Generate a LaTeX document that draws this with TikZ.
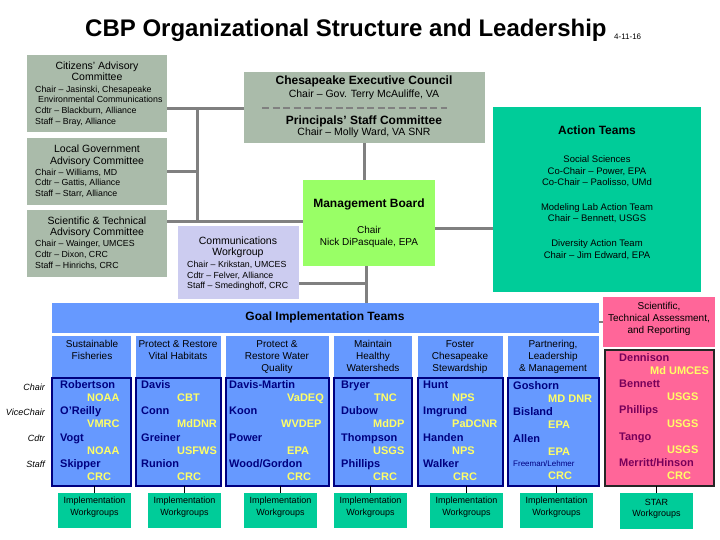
\documentclass[tikz,border=0pt]{standalone}
\usepackage{fontspec}
\setmainfont{Liberation Sans}
\definecolor{sage}{RGB}{170,187,170}
\definecolor{tealx}{RGB}{0,204,153}
\definecolor{limex}{RGB}{153,255,102}
\definecolor{lavx}{RGB}{204,204,240}
\definecolor{gblue}{RGB}{102,153,255}
\definecolor{pinkx}{RGB}{255,102,153}
\definecolor{navyx}{RGB}{0,0,128}
\definecolor{yelx}{RGB}{255,255,102}
\definecolor{plumx}{RGB}{120,0,90}
\definecolor{conngray}{RGB}{128,128,128}
\newcommand\myT{\fontsize{24}{26}\selectfont\bfseries}
\newcommand\myH{\fontsize{10.5}{12}\selectfont}
\newcommand\myS{\fontsize{8.8}{10}\selectfont}
\newcommand\myB{\fontsize{12}{14}\selectfont\bfseries}
\newcommand\myM{\fontsize{10}{12}\selectfont}
\newcommand\myE{\fontsize{10.5}{12}\selectfont}
\newcommand\myA{\fontsize{9.5}{11}\selectfont}
\newcommand\myN{\fontsize{11}{13}\selectfont\bfseries}
\newcommand\myW{\fontsize{9}{10}\selectfont}
\newcommand\mybox[6]{\node[boxst,#6,minimum width=#4pt,minimum height=#5pt] (#1) at (#2,#3) {};}
\newcommand\nm[4]{\node[nmst] (#1) at (#2,#3) {#4};}
\newcommand\org[4]{\node[orgst] (#1) at (#2,#3) {#4};}
\begin{document}
\begin{tikzpicture}[x=1pt,y=-1pt,
  boxst/.style={draw=none,inner sep=0,outer sep=0,anchor=north west},
  conn/.style={draw=conngray,line width=3pt},
  tick/.style={draw=black,line width=1pt},
  txt/.style={inner sep=0,anchor=mid},
  ltxt/.style={inner sep=0,anchor=mid west},
  nmst/.style={inner sep=0,anchor=mid west,text=navyx,font=\myN},
  orgst/.style={inner sep=0,anchor=mid west,text=yelx,font=\myN},
  lowbox/.style={fill=gblue,draw=navyx,line width=1.2pt},
  wgbox/.style={fill=tealx},
  lab/.style={inner sep=0,anchor=mid east,font=\fontsize{9}{10}\selectfont\itshape}]
\useasboundingbox (0,0) rectangle (720,540);

% title
\node[ltxt] (title) at (85,34) {\myT CBP Organizational Structure and Leadership};
\node[ltxt] (date) at (614,37) {\fontsize{8}{9}\selectfont 4-11-16};

% boxes
\mybox{cac}{27}{55}{140}{77}{fill=sage}
\mybox{lgac}{27}{138}{140}{67}{fill=sage}
\mybox{stac}{27}{210}{140}{67}{fill=sage}
\mybox{cec}{244}{72}{241}{71}{fill=sage}
\mybox{mb}{303}{180}{132}{86}{fill=limex}
\mybox{comm}{178}{226}{121}{73}{fill=lavx}
\mybox{act}{493}{107}{208}{185}{fill=tealx}
\mybox{git}{52}{303}{547}{30}{fill=gblue}
\mybox{starh}{603}{297}{112}{50}{fill=pinkx}

\mybox{h1}{52}{336}{79}{42}{fill=gblue}
\mybox{h2}{136}{336}{85}{42}{fill=gblue}
\mybox{h3}{226}{336}{103}{42}{fill=gblue}
\mybox{h4}{334}{336}{78}{42}{fill=gblue}
\mybox{h5}{418}{336}{85}{42}{fill=gblue}
\mybox{h6}{508}{336}{91}{42}{fill=gblue}

\mybox{l1}{52}{378}{79}{108}{lowbox}
\mybox{l2}{136}{378}{85}{108}{lowbox}
\mybox{l3}{226}{378}{103}{108}{lowbox}
\mybox{l4}{334}{378}{78}{108}{lowbox}
\mybox{l5}{418}{378}{85}{108}{lowbox}
\mybox{l6}{508}{378}{91}{108}{lowbox}
\mybox{l7}{605}{350}{109}{136}{fill=pinkx,draw=black!85,line width=1.2pt}

\mybox{wg1}{58}{493}{73}{35}{wgbox}
\mybox{wg2}{148}{493}{73}{35}{wgbox}
\mybox{wg3}{244}{493}{73}{35}{wgbox}
\mybox{wg4}{334}{493}{73}{35}{wgbox}
\mybox{wg5}{430}{493}{73}{35}{wgbox}
\mybox{wg6}{520}{493}{73}{35}{wgbox}
\mybox{wg7}{620}{493}{73}{36}{wgbox}

% connectors
\coordinate (busT) at (197,109);
\coordinate (busM) at (197,172);
\coordinate (busB) at (197,222);
\coordinate (cx) at (364,0);
\coordinate (ay) at (0,229);
\coordinate (gx) at (366,0);
\coordinate (cy) at (366,283);
\coordinate (sy) at (0,322);
\draw[conn] (cac.east |- busT) -- (cec.west |- busT);
\draw[conn] (busT) -- (busB);
\draw[conn] (lgac.east |- busM) -- (busM);
\draw[conn] (stac.east |- busB) -- (mb.west |- busB);
\draw[conn] (cec.south -| cx) -- (mb.north -| cx);
\draw[conn] (mb.east |- ay) -- (act.west |- ay);
\draw[conn] (mb.south -| gx) -- (git.north -| gx);
\draw[conn] (comm.east |- cy) -- (cy);
\draw[conn,line width=2pt] (git.east |- sy) -- (starh.west |- sy);
\foreach \i in {1,...,7}{\draw[tick] (wg\i.north) -- (wg\i.north |- l\i.south);}

% dashed divider
\coordinate (dA) at (262,108);
\coordinate (dB) at (447,108);
\draw[draw=conngray,line width=2.2pt,dash pattern=on 7pt off 3.5pt] (dA) -- (dB);

% CAC
\node[txt,font=\myH] (cac1) at (97,67) {Citizens' Advisory};
\node[txt,font=\myH] (cac2) at (97,78) {Committee};
\node[ltxt,font=\myS] (cac3) at (35,90) {Chair -- Jasinski, Chesapeake};
\node[ltxt,font=\myS] (cac4) at (38,100) {Environmental Communications};
\node[ltxt,font=\myS] (cac5) at (35,111) {Cdtr -- Blackburn, Alliance};
\node[ltxt,font=\myS] (cac6) at (35,122) {Staff -- Bray, Alliance};
% LGAC
\node[txt,font=\myH] (lg1) at (97,150) {Local Government};
\node[txt,font=\myH] (lg2) at (97,162) {Advisory Committee};
\node[ltxt,font=\myS] (lg3) at (35,173) {Chair -- Williams, MD};
\node[ltxt,font=\myS] (lg4) at (35,183) {Cdtr -- Gattis, Alliance};
\node[ltxt,font=\myS] (lg5) at (35,194) {Staff -- Starr, Alliance};
% STAC
\node[txt,font=\myH] (st1) at (97,222) {Scientific \& Technical};
\node[txt,font=\myH] (st2) at (97,233) {Advisory Committee};
\node[ltxt,font=\myS] (st3) at (35,244) {Chair -- Wainger, UMCES};
\node[ltxt,font=\myS] (st4) at (35,255) {Cdtr -- Dixon, CRC};
\node[ltxt,font=\myS] (st5) at (35,266) {Staff -- Hinrichs, CRC};
% Exec council
\node[txt,font=\myB] (ce1) at (364,82) {Chesapeake Executive Council};
\node[txt,font=\myE] (ce2) at (364,95) {Chair -- Gov. Terry McAuliffe, VA};
\node[txt,font=\myB] (ce3) at (364,122) {Principals’ Staff Committee};
\node[txt,font=\myE] (ce4) at (364,133) {Chair -- Molly Ward, VA SNR};
% Management board
\node[txt,font=\myB] (mb1) at (369,205) {Management Board};
\node[txt,font=\myM] (mb2) at (369,231) {Chair};
\node[txt,font=\myM] (mb3) at (369,243) {Nick DiPasquale, EPA};
% Communications
\node[txt,font=\myH] (cw1) at (238,242) {Communications};
\node[txt,font=\myH] (cw2) at (238,253) {Workgroup};
\node[ltxt,font=\myS] (cw3) at (187,265) {Chair -- Krikstan, UMCES};
\node[ltxt,font=\myS] (cw4) at (187,276) {Cdtr -- Felver, Alliance};
\node[ltxt,font=\myS] (cw5) at (187,286) {Staff -- Smedinghoff, CRC};
% Action teams
\node[txt,font=\myB] (at1) at (597,132) {Action Teams};
\node[txt,font=\myA] (at2) at (597,160) {Social Sciences};
\node[txt,font=\myA] (at3) at (597,172) {Co-Chair -- Power, EPA};
\node[txt,font=\myA] (at4) at (597,183) {Co-Chair -- Paolisso, UMd};
\node[txt,font=\myA] (at5) at (597,208) {Modeling Lab Action Team};
\node[txt,font=\myA] (at6) at (597,219) {Chair -- Bennett, USGS};
\node[txt,font=\myA] (at7) at (597,244) {Diversity Action Team};
\node[txt,font=\myA] (at8) at (597,256) {Chair -- Jim Edward, EPA};
% Goal band and STAR
\node[txt,font=\myB] (gt) at (325,318) {Goal Implementation Teams};
\node[txt,font=\myM] (sh1) at (659,307) {Scientific,};
\node[txt,font=\myM] (sh2) at (659,319) {Technical Assessment,};
\node[txt,font=\myM] (sh3) at (659,331) {and Reporting};
% column headers
\node[txt,font=\myM] (c1a) at (92,345) {Sustainable};
\node[txt,font=\myM] (c1b) at (92,357) {Fisheries};
\node[txt,font=\myM] (c2a) at (178,345) {Protect \& Restore};
\node[txt,font=\myM] (c2b) at (178,357) {Vital Habitats};
\node[txt,font=\myM] (c3a) at (277,345) {Protect \&};
\node[txt,font=\myM] (c3b) at (277,357) {Restore Water};
\node[txt,font=\myM] (c3c) at (277,369) {Quality};
\node[txt,font=\myM] (c4a) at (373,345) {Maintain};
\node[txt,font=\myM] (c4b) at (373,357) {Healthy};
\node[txt,font=\myM] (c4c) at (373,369) {Watersheds};
\node[txt,font=\myM] (c5a) at (460,345) {Foster};
\node[txt,font=\myM] (c5b) at (460,357) {Chesapeake};
\node[txt,font=\myM] (c5c) at (460,369) {Stewardship};
\node[txt,font=\myM] (c6a) at (553,345) {Partnering,};
\node[txt,font=\myM] (c6b) at (553,357) {Leadership};
\node[txt,font=\myM] (c6c) at (553,369) {\& Management};
% row labels
\node[lab] (rl1) at (45,388) {Chair};
\node[lab] (rl2) at (45,413) {ViceChair};
\node[lab] (rl3) at (45,439) {Cdtr};
\node[lab] (rl4) at (45,465) {Staff};
% column 1
\nm{n11}{60}{386}{Robertson}\org{o11}{87}{399}{NOAA}
\nm{n12}{60}{412}{O’Reilly}\org{o12}{87}{425}{VMRC}
\nm{n13}{60}{439}{Vogt}\org{o13}{87}{452}{NOAA}
\nm{n14}{60}{465}{Skipper}\org{o14}{87}{478}{CRC}
% column 2
\nm{n21}{141}{386}{Davis}\org{o21}{177}{399}{CBT}
\nm{n22}{141}{412}{Conn}\org{o22}{177}{425}{MdDNR}
\nm{n23}{141}{439}{Greiner}\org{o23}{177}{452}{USFWS}
\nm{n24}{141}{465}{Runion}\org{o24}{177}{478}{CRC}
% column 3
\nm{n31}{229}{386}{Davis-Martin}\org{o31}{287}{399}{VaDEQ}
\nm{n32}{229}{412}{Koon}\org{o32}{281}{425}{WVDEP}
\nm{n33}{229}{439}{Power}\org{o33}{287}{452}{EPA}
\nm{n34}{229}{465}{Wood/Gordon}\org{o34}{287}{478}{CRC}
% column 4
\nm{n41}{341}{386}{Bryer}\org{o41}{374}{399}{TNC}
\nm{n42}{341}{412}{Dubow}\org{o42}{373}{425}{MdDP}
\nm{n43}{341}{439}{Thompson}\org{o43}{373}{452}{USGS}
\nm{n44}{341}{465}{Phillips}\org{o44}{373}{478}{CRC}
% column 5
\nm{n51}{423}{386}{Hunt}\org{o51}{452}{399}{NPS}
\nm{n52}{423}{412}{Imgrund}\org{o52}{452}{425}{PaDCNR}
\nm{n53}{423}{439}{Handen}\org{o53}{452}{452}{NPS}
\nm{n54}{423}{465}{Walker}\org{o54}{453}{478}{CRC}
% column 6
\nm{n61}{513}{387}{Goshorn}\org{o61}{548}{400}{MD DNR}
\nm{n62}{513}{413}{Bisland}\org{o62}{548}{426}{EPA}
\nm{n63}{513}{440}{Allen}\org{o63}{548}{453}{EPA}
\node[ltxt,text=navyx,font=\fontsize{8}{9}\selectfont] (n64) at (513,464) {Freeman/Lehmer};
\org{o64}{548}{477}{CRC}
% STAR column
\node[nmst,text=plumx] (s1) at (619,359) {Dennison};\org{so1}{650}{372}{Md UMCES}
\node[nmst,text=plumx] (s2) at (619,385) {Bennett};\org{so2}{667}{398}{USGS}
\node[nmst,text=plumx] (s3) at (619,411) {Phillips};\org{so3}{667}{425}{USGS}
\node[nmst,text=plumx] (s4) at (619,438) {Tango};\org{so4}{667}{451}{USGS}
\node[nmst,text=plumx] (s5) at (619,464) {Merritt/Hinson};\org{so5}{667}{477}{CRC}
% workgroups text
\foreach \i in {1,...,6}{
  \node[txt,font=\myW] (wt\i a) at ([yshift=-8pt]wg\i.north) {Implementation};
  \node[txt,font=\myW] (wt\i b) at ([yshift=-20pt]wg\i.north) {Workgroups};
}
\node[txt,font=\myW] (wt7a) at ([yshift=-10pt]wg7.north) {STAR};
\node[txt,font=\myW] (wt7b) at ([yshift=-21pt]wg7.north) {Workgroups};
\end{tikzpicture}
\end{document}
